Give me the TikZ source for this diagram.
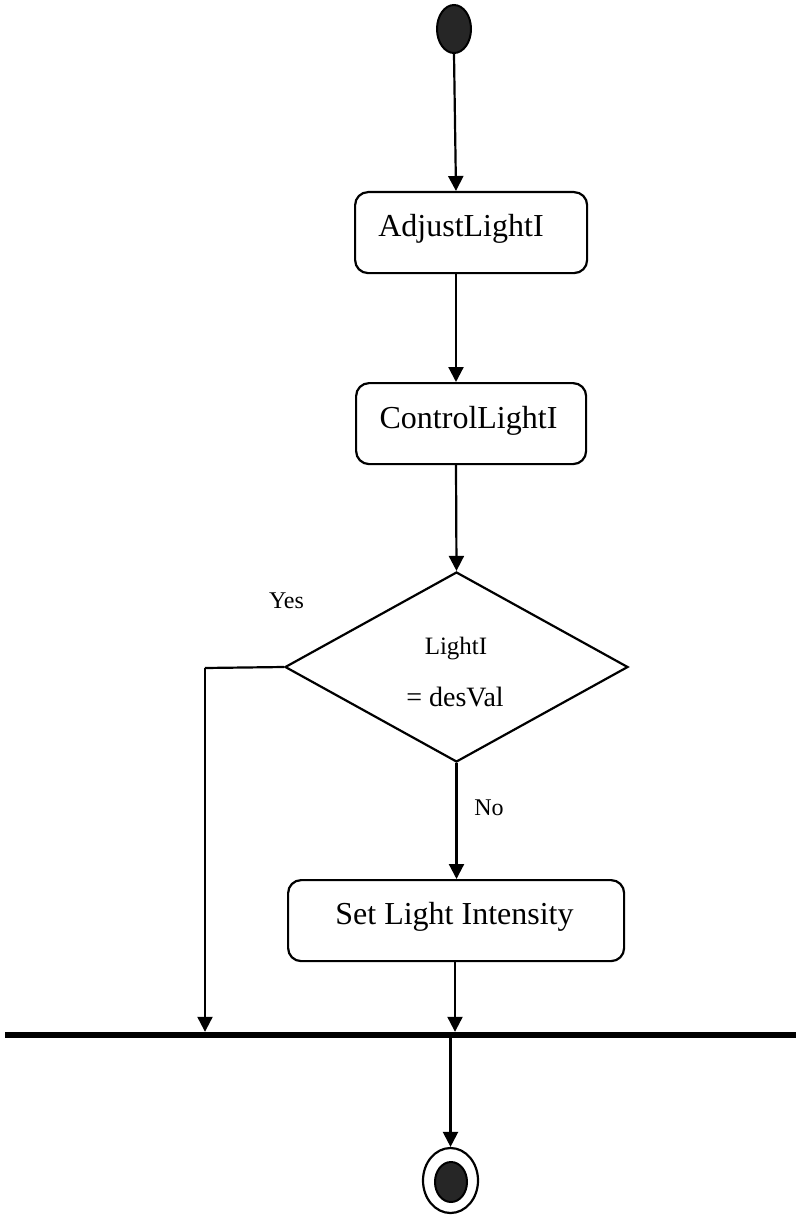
\documentclass[tikz,border=0pt]{standalone}
\usepackage{fontspec}
\setmainfont{Liberation Serif}
\usetikzlibrary{arrows.meta,shapes.geometric}
\definecolor{nodefill}{HTML}{262626}
\begin{document}
\begin{tikzpicture}[x=1pt,y=-1pt,
  flow/.style={line width=2.2pt,-{Triangle[width=15pt,length=15pt]}},
  action/.style={draw,line width=2.2pt,rounded corners=13pt,inner sep=0pt,anchor=north west},
  boxtext/.style={font=\fontsize{32}{38}\selectfont,anchor=base,inner sep=0pt},
  smalltext/.style={font=\fontsize{24}{29}\selectfont,anchor=base,inner sep=0pt},
  midtext/.style={font=\fontsize{28}{34}\selectfont,anchor=base,inner sep=0pt},
  blob/.style={ellipse,draw,fill=nodefill,line width=2pt,inner sep=0pt}]
\useasboundingbox (0,0) rectangle (796,1217);

% start state
\node[blob,minimum width=34pt,minimum height=48pt] (st) at (454,29) {};

% actions
\node[action,minimum width=232pt,minimum height=81pt] (b1) at (354,191) {};
\node[boxtext] (t1) at (461,236) {AdjustLightI};
\node[action,minimum width=230pt,minimum height=81pt] (b2) at (355,382) {};
\node[boxtext] (t2) at (468.5,428) {ControlLightI};

% decision
\node[diamond,draw,line width=2.2pt,minimum width=343pt,minimum height=190pt,inner sep=0pt] (dec) at (456.5,667) {};
\node[smalltext,font=\fontsize{25}{30}\selectfont] (d1) at (456,654) {LightI};
\node[midtext] (d2) at (455,706) {= desVal};
\node[smalltext] (yes) at (286.5,608) {Yes};
\node[smalltext] (no) at (489,815) {No};

\node[action,minimum width=336pt,minimum height=81pt] (b3) at (287,879) {};
\node[boxtext] (t3) at (454.5,924) {Set Light Intensity};

% join bar
\node[fill,minimum width=791pt,minimum height=6pt,inner sep=0pt,anchor=west] (bar) at (5,1035) {};

% final state
\node[ellipse,draw,line width=2.2pt,minimum width=55pt,minimum height=65pt,inner sep=0pt] (en) at (450.5,1180.5) {};
\node[blob,minimum width=32pt,minimum height=40pt] (eni) at (451,1182) {};

% connectors
\coordinate (ax) at (456,0);
\coordinate (ax2) at (455,0);
\coordinate (yc) at (205,668);
\draw[flow] (st.south) -- (b1.north -| ax);
\draw[flow] (b1.south -| ax) -- (b2.north -| ax);
\draw[flow] (b2.south -| ax) -- (dec.north);
\draw[flow] (dec.south) -- (b3.north -| dec.south);
\draw[line width=2.2pt] (dec.west) -- (yc);
\draw[flow] (yc) -- (yc |- bar.north);
\draw[flow] (b3.south -| ax2) -- (ax2 |- bar.north);
\draw[flow] (bar.south -| en.north) -- (en.north);
\end{tikzpicture}
\end{document}
